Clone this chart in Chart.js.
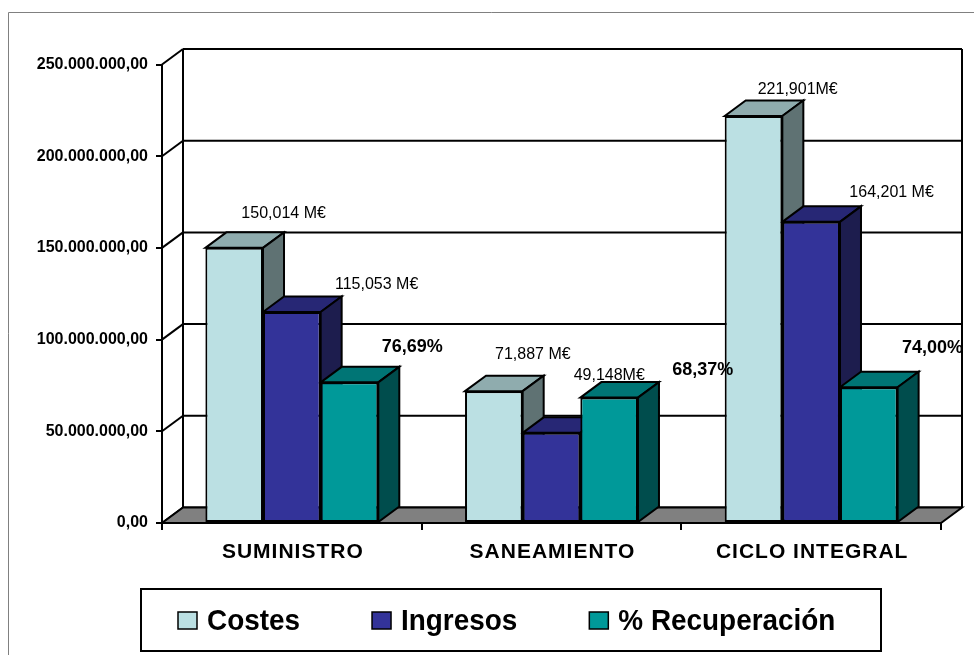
<!DOCTYPE html>
<html><head><meta charset="utf-8">
<script src="https://cdn.jsdelivr.net/npm/chart.js@4/dist/chart.umd.min.js"></script>
<style>html,body{margin:0;padding:0;background:#fff;}canvas{display:block;}</style>
</head><body>
<canvas id="c" width="974" height="655"></canvas>
<script>
// ---- data ----
const categories = ['SUMINISTRO', 'SANEAMIENTO', 'CICLO INTEGRAL'];
const seriesNames = ['Costes', 'Ingresos', '% Recuperación'];
const costes = [150014000, 71887000, 221901000];
const ingresos = [115053000, 49148000, 164201000];
const recuperacion = [76690000, 68370000, 74000000]; // plotted as % x 1.000.000
const costesLabels = ['150,014 M€', '71,887 M€', '221,901M€'];
const ingresosLabels = ['115,053 M€', '49,148M€', '164,201 M€'];
const recuperacionLabels = ['76,69%', '68,37%', '74,00%'];
const yMax = 250000000;
const yStep = 50000000;

// ---- styles ----
const FONT = '"Liberation Sans", Arial, Helvetica, sans-serif';
const frontColors = ['#BBE0E3', '#333399', '#009999'];
const topColors = ['#8FACAE', '#272775', '#007575'];
const sideColors = ['#5F7273', '#1D1D4E', '#004D4D'];
const DX = 21, DY = -15.5;
// label offsets relative to the top-left corner of each bar's front face
const labelOffsets = [
  [[36, -34], [30, -37], [33, -26]],
  [[72, -27], [51, -57], [67, -29]],
  [[61, -35], [92, -28], [62, -39]]
];
const labelBold = [false, false, true];

function fmt(v) {
  return Math.round(v).toString().replace(/\B(?=(\d{3})+(?!\d))/g, '.') + ',00';
}

function poly(ctx, pts, fill) {
  ctx.beginPath();
  ctx.moveTo(pts[0][0], pts[0][1]);
  for (let i = 1; i < pts.length; i++) ctx.lineTo(pts[i][0], pts[i][1]);
  ctx.closePath();
  if (fill) { ctx.fillStyle = fill; ctx.fill(); }
  ctx.stroke();
}
function line(ctx, x1, y1, x2, y2) {
  ctx.beginPath(); ctx.moveTo(x1, y1); ctx.lineTo(x2, y2); ctx.stroke();
}

const excel3d = {
  id: 'excel3d',
  beforeDatasetsDraw(chart) {
    const ctx = chart.ctx, a = chart.chartArea, ys = chart.scales.y;
    ctx.save();
    ctx.strokeStyle = '#000';
    ctx.lineWidth = 2;
    // back wall
    ctx.fillStyle = '#fff';
    ctx.fillRect(a.left + DX, a.top + DY, a.right - a.left, a.bottom - a.top);
    ys.ticks.forEach(t => {
      const y = ys.getPixelForValue(t.value);
      line(ctx, a.left + DX, y + DY, a.right + DX, y + DY);
      line(ctx, a.left, y, a.left + DX, y + DY);
    });
    line(ctx, a.left + DX, a.top + DY, a.left + DX, a.bottom + DY);
    line(ctx, a.right + DX, a.top + DY, a.right + DX, a.bottom + DY);
    // floor
    poly(ctx, [[a.left, a.bottom], [a.right, a.bottom], [a.right + DX, a.bottom + DY], [a.left + DX, a.bottom + DY]], '#808080');
    // bar tops and sides, left to right
    const bars = [];
    chart.data.datasets.forEach((ds, di) => {
      chart.getDatasetMeta(di).data.forEach(el => bars.push({el, di}));
    });
    bars.sort((p, q) => p.el.x - q.el.x);
    bars.forEach(({el, di}) => {
      const L = el.x - el.width / 2, R = el.x + el.width / 2, T = el.y, B = el.base;
      poly(ctx, [[L, T], [L + DX, T + DY], [R + DX, T + DY], [R, T]], topColors[di]);
      poly(ctx, [[R, T], [R + DX, T + DY], [R + DX, B + DY], [R, B]], sideColors[di]);
    });
    ctx.restore();
  },
  afterDatasetsDraw(chart) {
    const ctx = chart.ctx;
    const texts = [costesLabels, ingresosLabels, recuperacionLabels];
    ctx.save();
    ctx.fillStyle = '#000';
    ctx.textAlign = 'left';
    ctx.textBaseline = 'middle';
    chart.data.datasets.forEach((ds, di) => {
      ctx.font = (labelBold[di] ? 'bold 18px ' : '16px ') + FONT;
      chart.getDatasetMeta(di).data.forEach((el, i) => {
        const L = el.x - el.width / 2;
        const o = labelOffsets[di][i];
        ctx.fillText(texts[di][i], L + o[0], el.y + o[1]);
      });
    });
    ctx.restore();
  },
  afterDraw(chart) {
    const ctx = chart.ctx, xs = chart.scales.x, a = chart.chartArea;
    ctx.save();
    // category labels
    ctx.fillStyle = '#000';
    ctx.font = 'bold 21px ' + FONT;
    ctx.textAlign = 'center';
    ctx.textBaseline = 'middle';
    try { ctx.letterSpacing = '1px'; } catch (e) {}
    chart.data.labels.forEach((lab, i) => {
      ctx.fillText(lab, xs.getPixelForValue(i) + 1, a.bottom + 29);
    });
    try { ctx.letterSpacing = '0px'; } catch (e) {}
    // legend
    const bx = 141, by = 589, bw = 740, bh = 62;
    ctx.strokeStyle = '#000';
    ctx.lineWidth = 2;
    ctx.strokeRect(bx, by, bw, bh);
    ctx.font = 'bold 30px ' + FONT;
    ctx.textAlign = 'left';
    const sx = 0.93;
    let x = bx + 37;
    const cy = by + 32;
    chart.data.datasets.forEach((ds, di) => {
      ctx.fillStyle = ds.backgroundColor;
      ctx.lineWidth = 1.5;
      ctx.fillRect(x, cy - 9, 19, 17);
      ctx.strokeRect(x, cy - 9, 19, 17);
      ctx.fillStyle = '#000';
      ctx.save();
      ctx.translate(x + 29, cy + 1);
      ctx.scale(sx, 1);
      ctx.fillText(ds.label, 0, 0);
      ctx.restore();
      x += 29 + ctx.measureText(ds.label).width * sx + 72;
    });
    // outer border
    ctx.strokeStyle = '#808080';
    ctx.lineWidth = 1;
    ctx.beginPath();
    ctx.moveTo(8.5, 655); ctx.lineTo(8.5, 12.5); ctx.lineTo(974, 12.5);
    ctx.stroke();
    ctx.restore();
  }
};

new Chart(document.getElementById('c'), {
  type: 'bar',
  data: {
    labels: categories,
    datasets: [
      {label: seriesNames[0], data: costes, backgroundColor: frontColors[0]},
      {label: seriesNames[1], data: ingresos, backgroundColor: frontColors[1]},
      {label: seriesNames[2], data: recuperacion, backgroundColor: frontColors[2]}
    ]
  },
  options: {
    responsive: false,
    animation: false,
    devicePixelRatio: 1,
    layout: {padding: {left: 0, right: 33, top: 64.5, bottom: 0}},
    datasets: {bar: {categoryPercentage: 0.666, barPercentage: 1, borderColor: '#000', borderWidth: 2, borderSkipped: false}},
    plugins: {legend: {display: false}, tooltip: {enabled: false}},
    scales: {
      x: {
        grid: {offset: true, drawOnChartArea: false, drawTicks: true, tickLength: 7, color: '#000', lineWidth: 2},
        border: {display: true, color: '#000', width: 2},
        ticks: {display: false},
        afterFit(s) { s.height = 132; }
      },
      y: {
        min: 0, max: yMax,
        ticks: {stepSize: yStep, color: '#000', padding: 8, font: {family: FONT, size: 16, weight: 'bold'}, callback: v => fmt(v)},
        grid: {drawOnChartArea: false, drawTicks: true, tickLength: 6, color: '#000', lineWidth: 2},
        border: {display: true, color: '#000', width: 2},
        afterFit(s) { s.width = 162; }
      }
    }
  },
  plugins: [excel3d]
});
</script>
</body></html>
